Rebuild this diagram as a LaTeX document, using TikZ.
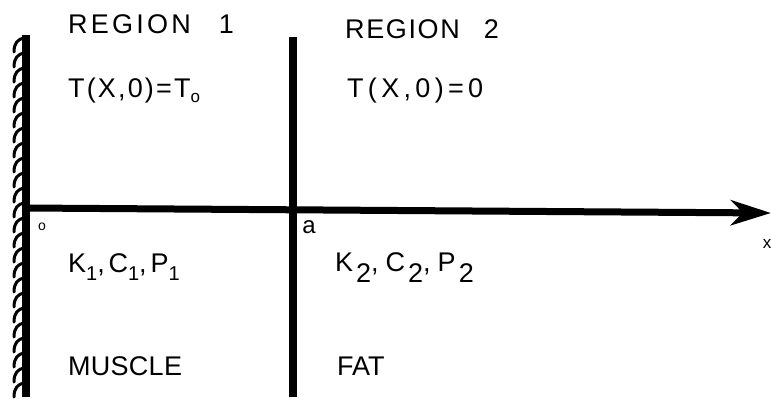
\documentclass[tikz,border=0pt]{standalone}
\usepackage{fontspec}
\setmainfont{Liberation Sans}
\usetikzlibrary{arrows.meta}
\newcommand{\lsp}[1]{\addfontfeature{LetterSpace=#1}}
\newcommand{\lowtwo}{\kern3pt\raisebox{-11pt}{2}}
\begin{document}
\begin{tikzpicture}[x=1pt,y=-1pt,
  lbl/.style={anchor=base west,inner sep=0pt,font=\fontsize{27}{32}\selectfont},
  thick line/.style={line width=7.5pt},
  hatch/.style={line width=3pt,line cap=round}]
\useasboundingbox (0,0) rectangle (772,400);
% wall
\coordinate (wt) at (26,35);
\coordinate (wb) at (26,397);
\draw[thick line] (wt) -- (wb);
\foreach \y in {38,53,...,390}{
  \draw[hatch] (24,\y) .. controls (18,\y+1) and (14,\y+5) .. (14,\y+14);
}
% interface
\coordinate (it) at (293,37);
\coordinate (ib) at (293,397);
\draw[thick line] (it) -- (ib);
% axis
\coordinate (ax0) at (26,208);
\coordinate (ax1) at (771,213);
\draw[line width=7pt,-{Stealth[length=40pt,width=25pt,inset=12pt]}] (ax0) -- (ax1);
% labels
\node[lbl] (r1) at (68,33) {\lsp{12}REGION\hspace{28pt}1};
\node[lbl] (t1) at (68,97) {\lsp{8}T(X,0)=T\raisebox{-5pt}{\fontsize{17}{17}\selectfont o}};
\node[lbl] (r2) at (345,38) {\lsp{6}REGION\hspace{24pt}2};
\node[lbl] (t2) at (347,97) {\lsp{16}T(X,0)=0};
\node[lbl] (k1) at (68,272) {\lsp{14}K\raisebox{-8pt}{\fontsize{20}{20}\selectfont 1},C\raisebox{-8pt}{\fontsize{20}{20}\selectfont 1},P\raisebox{-8pt}{\fontsize{20}{20}\selectfont 1}};
\node[lbl] (k2) at (335,271) {\lsp{15}K\lowtwo,\kern7pt C\lowtwo,\kern7pt P\lowtwo};
\node[lbl] (m) at (68,375) {\lsp{1}MUSCLE};
\node[lbl] (f) at (337,375) {FAT};
\node[inner sep=0pt,font=\fontsize{14}{14}\selectfont] (o) at (42,227) {o};
\node[inner sep=0pt,font=\fontsize{24}{24}\selectfont] (a) at (309,227) {a};
\node[inner sep=0pt,font=\fontsize{17}{17}\selectfont] (x) at (767,244) {x};
\end{tikzpicture}
\end{document}
